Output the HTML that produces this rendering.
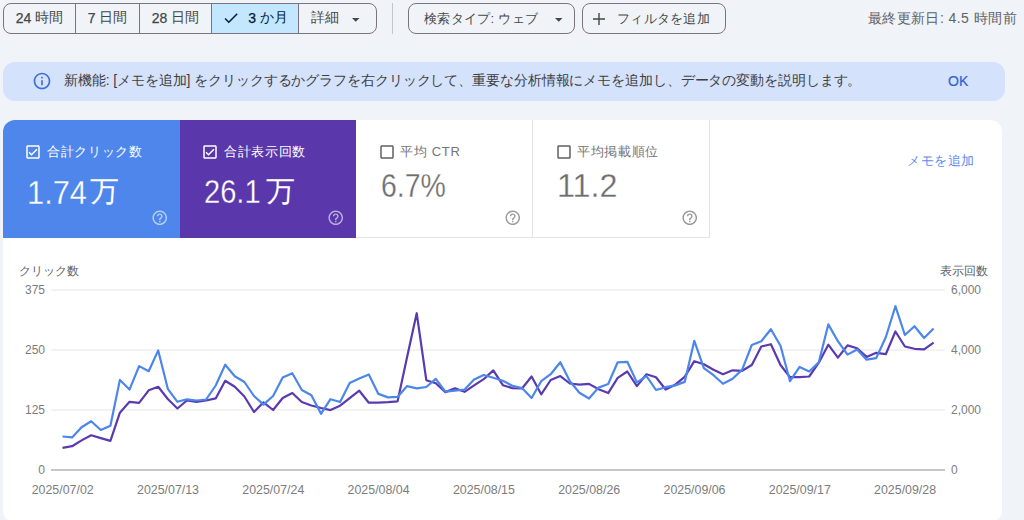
<!DOCTYPE html>
<html><head><meta charset="utf-8">
<style>
*{box-sizing:border-box;margin:0;padding:0}
html,body{width:1024px;height:520px;overflow:hidden;background:#f0f4f9;font-family:"Liberation Sans",sans-serif;color:#444746}
.abs{position:absolute}
.seg{position:absolute;top:3px;height:31px;border:1px solid #79747e;display:flex;align-items:center;justify-content:center;padding-bottom:1.5px;font-size:14px;color:#444746;white-space:nowrap}
.btn{position:absolute;top:3px;height:31px;border:1px solid #79747e;border-radius:8px;font-size:14px;color:#444746;white-space:nowrap}
.txt{position:absolute;white-space:nowrap}
b.d{font-weight:normal;-webkit-text-stroke:0.25px currentColor}
.tile{position:absolute;top:120px;height:118px;width:177px}
.tile .lab{position:absolute;left:44px;top:26px;font-size:14px;line-height:24px;white-space:nowrap}
.tile .val{position:absolute;left:24px;top:56px;font-size:30px;line-height:40px;white-space:nowrap}
.tile svg.cb{position:absolute;left:21px;top:143px}
</style></head>
<body>
<!-- segmented buttons -->
<div class="seg" style="left:3px;width:73px;border-radius:8px 0 0 8px;"><b class="d">24</b>&nbsp;時間</div>
<div class="seg" style="left:75px;width:65px;"><b class="d">7</b>&nbsp;日間</div>
<div class="seg" style="left:139px;width:73px;"><b class="d">28</b>&nbsp;日間</div>
<div class="seg" style="left:211px;width:88px;background:#c2e7ff;color:#001d35">
  <svg width="18" height="18" viewBox="0 0 24 24" style="margin-right:8px"><path d="M9 16.17L4.83 12l-1.42 1.41L9 19 21 7l-1.41-1.41z" fill="#001d35"/></svg><b class="d">3</b>&nbsp;か月</div>
<div class="seg" style="left:298px;width:79px;border-radius:0 8px 8px 0;justify-content:flex-start;padding-left:12px">詳細
  <svg width="8" height="4" style="position:absolute;left:52.5px;top:13.5px"><path d="M0 0h7.5L3.75 3.75z" fill="#444746"/></svg></div>
<div class="abs" style="left:392px;top:3px;width:1px;height:31px;background:#c4c7c5"></div>
<div class="btn" style="left:408px;width:167px;"><span class="txt" style="left:15px;top:6px;font-size:13px;letter-spacing:0.3px">検索タイプ: ウェブ</span>
  <svg width="8" height="4" style="position:absolute;left:145.5px;top:13.5px"><path d="M0 0h7.5L3.75 3.75z" fill="#444746"/></svg></div>
<div class="btn" style="left:582px;width:144px;">
  <svg width="12" height="12" viewBox="0 0 12 12" style="position:absolute;left:10px;top:9px"><path d="M5.3 0h1.4v5.3H12v1.4H6.7V12H5.3V6.7H0V5.3h5.3z" fill="#444746"/></svg>
  <span class="txt" style="left:34px;top:6px;font-size:13px;letter-spacing:0.3px">フィルタを追加</span></div>
<div class="txt" style="right:7px;top:9.5px;font-size:14px;letter-spacing:0.44px;color:#5f6368">最終更新日: 4.5 時間前</div>

<!-- banner -->
<div class="abs" style="left:3px;top:62px;width:1002px;height:39px;background:#d5e2fb;border-radius:12px"></div>
<svg class="abs" style="left:32px;top:70.5px" width="20" height="20" viewBox="0 0 24 24"><path fill="#3f6fd8" d="M11 7h2v2h-2zm0 4h2v6h-2zm1-9C6.48 2 2 6.48 2 12s4.48 10 10 10 10-4.48 10-10S17.52 2 12 2zm0 18c-4.41 0-8-3.59-8-8s3.59-8 8-8 8 3.59 8 8-3.59 8-8 8z"/></svg>
<div class="txt" style="left:64px;top:72px;font-size:14px;color:#3c4043;letter-spacing:-0.1px">新機能: [メモを追加] をクリックするかグラフを右クリックして、重要な分析情報にメモを追加し、データの変動を説明します。</div>
<div class="txt" style="left:948px;top:72.5px;font-size:14px;color:#2f63d3;-webkit-text-stroke:0.2px #2f63d3">OK</div>

<!-- card -->
<div class="abs" style="left:3px;top:238px;width:999px;height:284px;background:#fff;border-radius:0 0 12px 12px"></div>
<div class="abs" style="left:356px;top:120px;width:646px;height:119px;background:#fff;border-radius:0 12px 0 0"></div>
<div class="abs" style="left:3px;top:120px;width:177px;height:118px;background:#4e86eb;border-radius:12px 0 0 0"></div>
<div class="abs" style="left:180px;top:120px;width:176px;height:118px;background:#5a37ab"></div>
<div class="abs" style="left:356px;top:237px;width:354px;height:1px;background:#e3e3e3"></div>
<div class="abs" style="left:532px;top:120px;width:1px;height:118px;background:#e3e3e3"></div>
<div class="abs" style="left:709px;top:120px;width:1px;height:118px;background:#e3e3e3"></div>
<!-- tile contents -->
<svg class="abs" style="left:24px;top:143px" width="18" height="18" viewBox="0 0 24 24"><path fill="#fff" d="M19 3H5c-1.11 0-2 .9-2 2v14c0 1.1.89 2 2 2h14c1.11 0 2-.9 2-2V5c0-1.1-.89-2-2-2zm0 16H5V5h14v14zM17.99 9l-1.41-1.42-6.59 6.59-2.58-2.57-1.42 1.41 4 3.99z"/></svg>
<div class="txt" style="left:47px;top:143px;font-size:13px;letter-spacing:0.7px;color:#fff">合計クリック数</div>
<div class="txt" style="left:27px;top:172.5px;font-size:34px;color:#fff;-webkit-text-stroke:0.3px #4e86eb;transform:scaleX(.906);transform-origin:0 0">1.74</div><div class="txt" style="left:90px;top:172px;font-size:29px;color:#fff">万</div>
<svg class="abs" style="left:150.5px;top:209.3px" width="17.5" height="17.5" viewBox="0 0 24 24"><path fill="rgba(255,255,255,.6)" d="M11 18h2v-2h-2v2zm1-16C6.48 2 2 6.48 2 12s4.48 10 10 10 10-4.48 10-10S17.52 2 12 2zm0 18c-4.41 0-8-3.59-8-8s3.59-8 8-8 8 3.59 8 8-3.59 8-8 8zm0-14c-2.21 0-4 1.79-4 4h2c0-1.1.9-2 2-2s2 .9 2 2c0 2-3 1.75-3 5h2c0-2.25 3-2.5 3-5 0-2.21-1.79-4-4-4z"/></svg>

<svg class="abs" style="left:201px;top:143px" width="18" height="18" viewBox="0 0 24 24"><path fill="#fff" d="M19 3H5c-1.11 0-2 .9-2 2v14c0 1.1.89 2 2 2h14c1.11 0 2-.9 2-2V5c0-1.1-.89-2-2-2zm0 16H5V5h14v14zM17.99 9l-1.41-1.42-6.59 6.59-2.58-2.57-1.42 1.41 4 3.99z"/></svg>
<div class="txt" style="left:224px;top:143px;font-size:13px;letter-spacing:0.7px;color:#fff">合計表示回数</div>
<div class="txt" style="left:203.5px;top:172px;font-size:34px;color:#fff;-webkit-text-stroke:0.3px #5a37ab;transform:scaleX(.856);transform-origin:0 0">26.1</div><div class="txt" style="left:266px;top:172px;font-size:29px;color:#fff">万</div>
<svg class="abs" style="left:327px;top:209.3px" width="17.5" height="17.5" viewBox="0 0 24 24"><path fill="rgba(255,255,255,.6)" d="M11 18h2v-2h-2v2zm1-16C6.48 2 2 6.48 2 12s4.48 10 10 10 10-4.48 10-10S17.52 2 12 2zm0 18c-4.41 0-8-3.59-8-8s3.59-8 8-8 8 3.59 8 8-3.59 8-8 8zm0-14c-2.21 0-4 1.79-4 4h2c0-1.1.9-2 2-2s2 .9 2 2c0 2-3 1.75-3 5h2c0-2.25 3-2.5 3-5 0-2.21-1.79-4-4-4z"/></svg>

<svg class="abs" style="left:378px;top:143px" width="18" height="18" viewBox="0 0 24 24"><path fill="#616161" d="M19 5v14H5V5h14m0-2H5c-1.1 0-2 .9-2 2v14c0 1.1.9 2 2 2h14c1.1 0 2-.9 2-2V5c0-1.1-.9-2-2-2z"/></svg>
<div class="txt" style="left:400px;top:143px;font-size:13px;letter-spacing:0.7px;color:#757575">平均 CTR</div>
<div class="txt" style="left:380.9px;top:166px;font-size:34px;color:#6d6d6d;-webkit-text-stroke:0.3px #fff;transform:scaleX(.837);transform-origin:0 0">6.7%</div>
<svg class="abs" style="left:503.8px;top:208.8px" width="17.5" height="17.5" viewBox="0 0 24 24"><path fill="#9a9a9a" d="M11 18h2v-2h-2v2zm1-16C6.48 2 2 6.48 2 12s4.48 10 10 10 10-4.48 10-10S17.52 2 12 2zm0 18c-4.41 0-8-3.59-8-8s3.59-8 8-8 8 3.59 8 8-3.59 8-8 8zm0-14c-2.21 0-4 1.79-4 4h2c0-1.1.9-2 2-2s2 .9 2 2c0 2-3 1.75-3 5h2c0-2.25 3-2.5 3-5 0-2.21-1.79-4-4-4z"/></svg>

<svg class="abs" style="left:555px;top:143px" width="18" height="18" viewBox="0 0 24 24"><path fill="#616161" d="M19 5v14H5V5h14m0-2H5c-1.1 0-2 .9-2 2v14c0 1.1.9 2 2 2h14c1.1 0 2-.9 2-2V5c0-1.1-.9-2-2-2z"/></svg>
<div class="txt" style="left:577px;top:143px;font-size:13px;letter-spacing:0.7px;color:#757575">平均掲載順位</div>
<div class="txt" style="left:556.9px;top:166px;font-size:34px;color:#6d6d6d;-webkit-text-stroke:0.3px #fff;transform:scaleX(.951);transform-origin:0 0">11.2</div>
<svg class="abs" style="left:680.8px;top:208.8px" width="17.5" height="17.5" viewBox="0 0 24 24"><path fill="#9a9a9a" d="M11 18h2v-2h-2v2zm1-16C6.48 2 2 6.48 2 12s4.48 10 10 10 10-4.48 10-10S17.52 2 12 2zm0 18c-4.41 0-8-3.59-8-8s3.59-8 8-8 8 3.59 8 8-3.59 8-8 8zm0-14c-2.21 0-4 1.79-4 4h2c0-1.1.9-2 2-2s2 .9 2 2c0 2-3 1.75-3 5h2c0-2.25 3-2.5 3-5 0-2.21-1.79-4-4-4z"/></svg>

<div class="txt" style="left:907px;top:152px;font-size:13px;letter-spacing:0.6px;color:#5a8def">メモを追加</div>

<!-- chart -->
<div class="txt" style="left:19px;top:263px;font-size:12px;color:#5f6368">クリック数</div>
<div class="txt" style="left:940px;top:263px;font-size:12px;color:#5f6368">表示回数</div>
<svg class="abs" style="left:0;top:0" width="1024" height="520">
  <g stroke="#f2f2f2" stroke-width="2">
    <line x1="51" y1="290" x2="945" y2="290"/>
    <line x1="51" y1="350" x2="945" y2="350"/>
    <line x1="51" y1="410" x2="945" y2="410"/>
  </g>
  <line x1="51" y1="470" x2="945" y2="470" stroke="#c6c6c6" stroke-width="2"/>
  <g font-family="Liberation Sans, sans-serif" font-size="12" fill="#7c7c7c">
    <text x="45" y="294" text-anchor="end">375</text>
    <text x="45" y="354" text-anchor="end">250</text>
    <text x="45" y="414" text-anchor="end">125</text>
    <text x="45" y="474" text-anchor="end">0</text>
    <text x="951" y="294">6,000</text>
    <text x="951" y="354">4,000</text>
    <text x="951" y="414">2,000</text>
    <text x="951" y="474">0</text>
  </g>
  <g font-family="Liberation Sans, sans-serif" font-size="12.4" fill="#7c7c7c" text-anchor="middle">
    <text x="62.7" y="494">2025/07/02</text>
    <text x="168" y="494">2025/07/13</text>
    <text x="273.3" y="494">2025/07/24</text>
    <text x="378.6" y="494">2025/08/04</text>
    <text x="483.9" y="494">2025/08/15</text>
    <text x="589.2" y="494">2025/08/26</text>
    <text x="694.5" y="494">2025/09/06</text>
    <text x="799.8" y="494">2025/09/17</text>
    <text x="905.1" y="494">2025/09/28</text>
  </g>
  <polyline fill="none" stroke="#5a3ab0" stroke-width="2.2" stroke-linejoin="round" points="62.5,447.8 72.1,446.2 81.6,440.4 91.2,435.3 100.8,438.1 110.4,440.9 119.9,412.7 129.5,401.8 139.1,402.8 148.7,390.3 158.2,386.8 167.8,399.0 177.4,408.5 186.9,400.5 196.5,401.8 206.1,400.5 215.7,398.4 225.2,380.8 234.8,386.8 244.4,396.5 254.0,412.0 263.5,402.3 273.1,410.0 282.7,398.0 292.3,393.0 301.8,402.0 311.4,405.5 321.0,408.0 330.5,410.1 340.1,405.7 349.7,398.1 359.3,390.7 368.8,402.7 378.4,402.7 388.0,402.2 397.6,401.3 407.1,357.0 416.7,313.2 426.3,380.2 435.8,383.2 445.4,392.1 455.0,388.4 464.6,391.8 474.1,385.4 483.7,379.2 493.3,370.4 502.9,385.2 512.4,388.1 522.0,388.5 531.6,376.5 541.2,394.3 550.7,380.0 560.3,376.1 569.9,383.5 579.4,384.6 589.0,383.9 598.6,389.2 608.2,393.1 617.7,377.8 627.3,371.5 636.9,386.1 646.5,374.3 656.0,377.3 665.6,389.5 675.2,384.7 684.7,376.8 694.3,361.2 703.9,364.2 713.5,369.7 723.0,374.2 732.6,370.3 742.2,370.8 751.8,365.0 761.3,346.5 770.9,344.2 780.5,365.0 790.0,377.2 799.6,377.2 809.2,376.5 818.8,362.7 828.3,344.7 837.9,357.6 847.5,345.4 857.1,348.2 866.6,356.9 876.2,352.8 885.8,354.2 895.4,331.5 904.9,346.5 914.5,348.8 924.1,349.3 933.6,342.6"/>
  <polyline fill="none" stroke="#4c86ea" stroke-width="2.2" stroke-linejoin="round" points="62.5,436.5 72.1,437.4 81.6,427.2 91.2,421.2 100.8,430.0 110.4,425.8 119.9,379.9 129.5,389.6 139.1,366.1 148.7,371.2 158.2,350.4 167.8,388.8 177.4,401.8 186.9,399.3 196.5,400.5 206.1,399.5 215.7,385.5 225.2,364.7 234.8,376.2 244.4,382.0 254.0,396.0 263.5,404.6 273.1,396.0 282.7,377.6 292.3,373.2 301.8,390.0 311.4,395.3 321.0,413.8 330.5,399.2 340.1,402.0 349.7,383.1 359.3,378.5 368.8,374.5 378.4,393.9 388.0,397.4 397.6,396.9 407.1,386.1 416.7,388.4 426.3,387.0 435.8,378.9 445.4,391.6 455.0,390.7 464.6,389.5 474.1,379.6 483.7,375.0 493.3,377.8 502.9,380.8 512.4,385.8 522.0,388.1 531.6,398.0 541.2,381.2 550.7,374.2 560.3,362.2 569.9,381.2 579.4,392.7 589.0,398.5 598.6,387.6 608.2,384.0 617.7,362.3 627.3,361.8 636.9,382.4 646.5,376.2 656.0,390.0 665.6,387.2 675.2,385.4 684.7,381.9 694.3,340.8 703.9,368.1 713.5,375.2 723.0,383.8 732.6,378.8 742.2,369.6 751.8,344.9 761.3,341.2 770.9,329.2 780.5,345.8 790.0,381.2 799.6,366.9 809.2,371.5 818.8,362.2 828.3,324.4 837.9,341.2 847.5,354.6 857.1,349.5 866.6,359.7 876.2,358.1 885.8,337.3 895.4,306.2 904.9,335.0 914.5,326.2 924.1,338.0 933.6,328.5"/>
</svg>
</body></html>
